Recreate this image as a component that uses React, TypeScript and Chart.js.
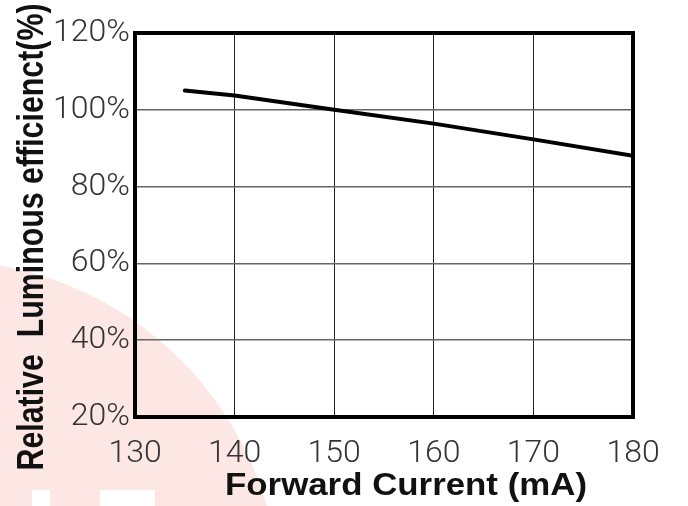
import React, { useEffect, useRef } from "react";
import { Chart, registerables } from "chart.js";

Chart.register(...registerables);

// ---- data ----
const currentMA = [135, 140, 150, 160, 170, 180];
const efficiencyPct = [105, 103.7, 100, 96.4, 92.3, 88];
const xTickValues = [130, 140, 150, 160, 170, 180];
const yTickValues = [20, 40, 60, 80, 100, 120];
const xTitle = "Forward Current (mA)";
const yTitle = "Relative  Luminous efficienct(%)";

const W = 688;
const H = 506;

const watermarkPlugin = {
  id: "watermark",
  beforeDraw(chart: any) {
    const ctx = chart.ctx;
    ctx.save();
    ctx.fillStyle = "#ffffff";
    ctx.fillRect(0, 0, W, H);
    ctx.fillStyle = "#fde7e5";
    ctx.beginPath();
    ctx.arc(-60, 600, 340, 0, Math.PI * 2);
    ctx.fill();
    ctx.fillStyle = "#ffffff";
    ctx.fillRect(32, 490, 18, 20);
    ctx.fillRect(100, 490, 55, 20);
    ctx.restore();
  },
};

const framePlugin = {
  id: "frame",
  afterDraw(chart: any) {
    const { ctx, chartArea: a } = chart;
    ctx.save();
    ctx.strokeStyle = "#000";
    ctx.lineWidth = 4;
    ctx.strokeRect(a.left, a.top, a.right - a.left, a.bottom - a.top);

    // x title
    ctx.fillStyle = "#111";
    ctx.font = "bold 31px 'Liberation Sans', Arial, sans-serif";
    ctx.textBaseline = "alphabetic";
    ctx.textAlign = "center";
    let w = ctx.measureText(xTitle).width;
    ctx.save();
    ctx.translate(406, 495);
    ctx.scale(362 / w, 1);
    ctx.fillText(xTitle, 0, 0);
    ctx.restore();

    // y title
    ctx.font = "bold 36px 'Liberation Sans', Arial, sans-serif";
    w = ctx.measureText(yTitle).width;
    ctx.save();
    ctx.translate(43, 237);
    ctx.rotate(-Math.PI / 2);
    ctx.scale(467 / w, 1);
    ctx.fillText(yTitle, 0, 0);
    ctx.restore();
    ctx.restore();
  },
};

export default function App() {
  const ref = useRef<HTMLCanvasElement | null>(null);
  useEffect(() => {
    document.body.style.margin = "0";
    const canvas = ref.current!;
    const tickFont = { family: "Roboto, 'DejaVu Sans', sans-serif", size: 32, weight: "300" as any };
    const chart = new Chart(canvas, {
      type: "scatter",
      data: {
        datasets: [
          {
            data: currentMA.map((x, i) => ({ x, y: efficiencyPct[i] })),
            showLine: true,
            borderColor: "#000",
            borderWidth: 4,
            pointRadius: 0,
            tension: 0,
            borderCapStyle: "round",
          },
        ],
      },
      options: {
        animation: false,
        responsive: false,
        devicePixelRatio: 1,
        layout: { padding: { left: 0, top: 33, right: 55, bottom: 0 } },
        plugins: { legend: { display: false }, tooltip: { enabled: false } },
        scales: {
          x: {
            type: "linear",
            min: 130,
            max: 180,
            afterFit: (s: any) => {
              s.height = 89;
            },
            afterBuildTicks: (s: any) => {
              s.ticks = xTickValues.map((v) => ({ value: v }));
            },
            grid: { color: "#222", lineWidth: 1, drawTicks: false },
            border: { display: false },
            ticks: { padding: 18, color: "#333", font: tickFont, maxRotation: 0 },
          },
          y: {
            type: "linear",
            min: 20,
            max: 120,
            afterFit: (s: any) => {
              s.width = 135;
            },
            afterBuildTicks: (s: any) => {
              s.ticks = yTickValues.map((v) => ({ value: v }));
            },
            grid: { color: "#666", lineWidth: 1.5, drawTicks: false },
            border: { display: false },
            ticks: {
              padding: 5,
              color: "#333",
              font: tickFont,
              callback: (v: any) => v + "%",
            },
          },
        },
      },
      plugins: [watermarkPlugin, framePlugin],
    });
    return () => chart.destroy();
  }, []);
  return (
    <div style={{ position: "absolute", left: 0, top: 0, width: W, height: H }}>
      <canvas ref={ref} width={W} height={H} style={{ display: "block" }} />
    </div>
  );
}
